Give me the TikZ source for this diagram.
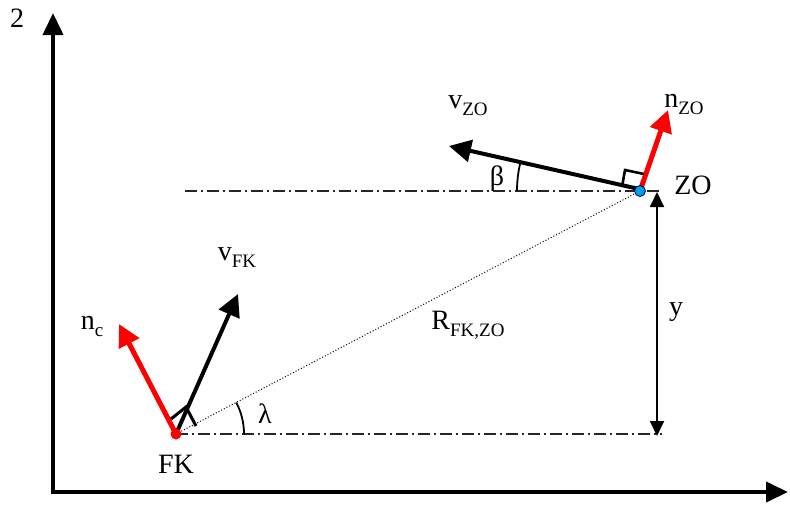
\documentclass[tikz,border=0pt]{standalone}
\usepackage{fontspec}
\setmainfont{Liberation Serif}
\usetikzlibrary{arrows.meta,calc}
\tikzset{
  lbl/.style={font=\fontsize{28}{30}\selectfont, inner sep=0pt},
  axisline/.style={line width=4pt,-{Triangle[length=22pt,width=20pt]}},
  vecblack/.style={line width=4pt,black,-{Triangle[length=22pt,width=22pt]}},
  vecred/.style={line width=5pt,red,-{Triangle[length=22pt,width=22pt]}},
  dashdot/.style={line width=1.2pt,black!85,dash pattern=on 12pt off 4pt on 2pt off 4pt},
  dotline/.style={line width=1pt,dotted},
  marker/.style={line width=3pt,black},
}
\newcommand{\sbs}[1]{\raisebox{-0.25em}{\fontsize{19}{20}\selectfont #1}}
\begin{document}
\begin{tikzpicture}[x=1pt,y=1pt]
\useasboundingbox (0,0) rectangle (790,-528);
% axes
\coordinate (O) at (53,-492);
\coordinate (Ytop) at (53,-13);
\coordinate (Xend) at (788,-492);
\draw[axisline] ($(O)+(0,-2)$) -- (Ytop);
\draw[axisline] ($(O)+(-2,0)$) -- (Xend);
\node[lbl] (two) at (17,-18) {2};
% points
\coordinate (FK) at (176,-434);
\coordinate (ZO) at (640,-191);
% reference lines
\coordinate (FKr) at (662,-434);
\coordinate (ZOl) at (185,-191);
\coordinate (ZOr) at (662,-191);
\draw[dashdot] (FK) -- (FKr);
\draw[dashdot] (ZOl) -- (ZOr);
\draw[dotline] (FK) -- (ZO);
% y dimension
\coordinate (ya) at (657,-192);
\coordinate (yb) at (657,-436);
\draw[line width=1.8pt,{Triangle[length=15pt,width=14pt]}-{Triangle[length=15pt,width=14pt]}] (ya) -- (yb);
\node[lbl] (ylab) at (676,-312) {y};
% angles
\draw[line width=1.8pt] ($(FK)+(68,0)$) arc[start angle=0,end angle=27.6,radius=68pt];
\node[lbl] (lam) at (265,-414) {λ};
\draw[line width=1.8pt] ($(ZO)+(-123,0)$) arc[start angle=180,end angle=166.9,radius=123pt];
\node[lbl] (beta) at (497,-179) {β};
% FK vectors
\coordinate (vfktip) at (238,-294);
\coordinate (nctip) at (119,-324);
\draw[vecred] (FK) -- (nctip);
\draw[vecblack] (FK) -- (vfktip);
\draw[marker] (171,-419) -- (186,-407) -- (196,-426);
\fill[red] (FK) circle (5.5pt);
% ZO vectors
\coordinate (vzotip) at (449,-146);
\coordinate (nzotip) at (668,-110);
\draw[vecblack] ($(ZO)+(-1,2)$) -- (vzotip);
\draw[vecred] (ZO) -- (nzotip);
\draw[line width=2.6pt] (622,-187) -- (625,-170) -- (644,-174);
\filldraw[fill={rgb,255:red,0;green,160;blue,230},draw=black!70!blue,line width=0.8pt] (ZO) circle (5.5pt);
% labels
\node[lbl] (vfk) at (237,-258) {v\sbs{FK}};
\node[lbl] (nc) at (92,-326) {n\sbs{c}};
\node[lbl] (fklab) at (176,-464) {FK};
\node[lbl] (rlab) at (468,-325) {R\sbs{FK,ZO}};
\node[lbl] (zolab) at (693,-185) {ZO};
\node[lbl] (vzo) at (468,-106) {v\sbs{ZO}};
\node[lbl] (nzo) at (684,-104) {n\sbs{ZO}};
\end{tikzpicture}
\end{document}
